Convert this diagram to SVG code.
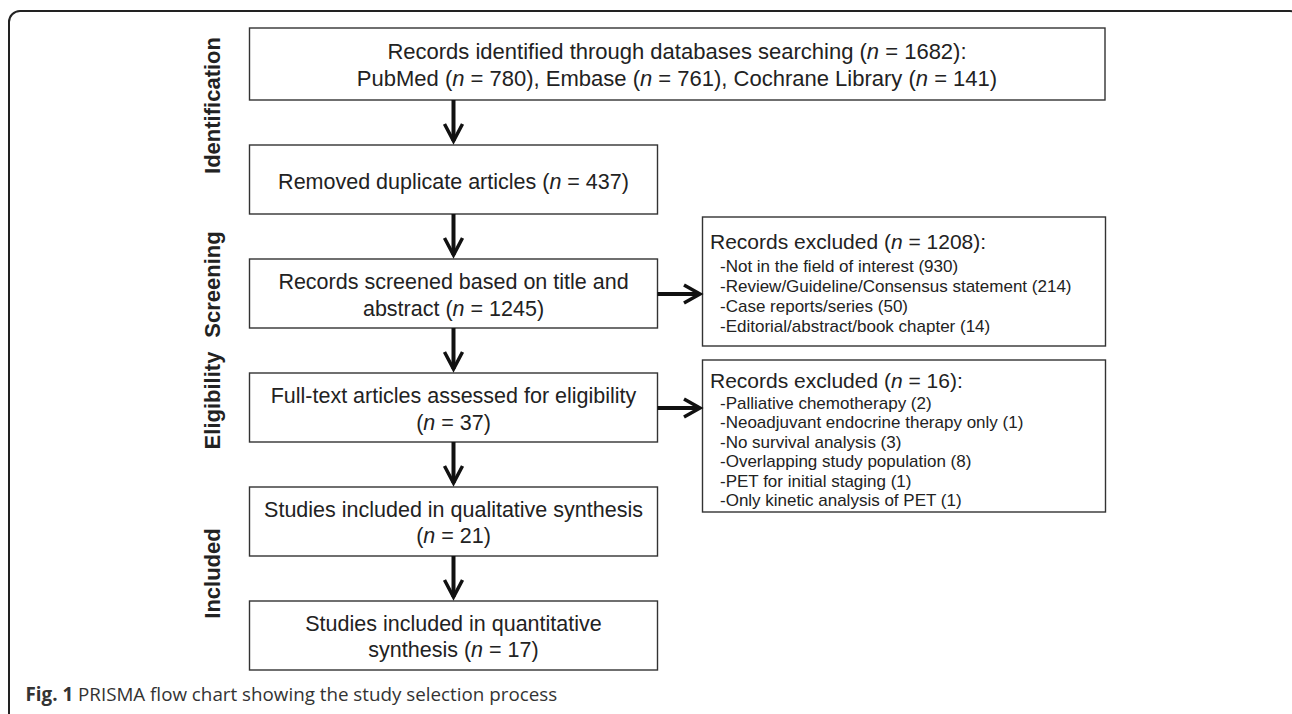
<svg xmlns="http://www.w3.org/2000/svg" width="1292" height="714" viewBox="0 0 1292 714">
<style>
.box{fill:#fff;stroke:#333;stroke-width:1.4}
.t{font-family:"Liberation Sans",Arial,sans-serif;font-size:21.5px;fill:#222;text-anchor:middle}
.t1{font-size:22px}
.h{font-family:"Liberation Sans",Arial,sans-serif;font-size:21px;fill:#222}
.s{font-family:"Liberation Sans",Arial,sans-serif;font-size:17px;fill:#222}
.side{font-family:"Liberation Sans",Arial,sans-serif;font-size:22px;font-weight:bold;fill:#222;text-anchor:middle}
.ln{fill:none;stroke:#111;stroke-width:4}
.hd{fill:none;stroke:#111;stroke-width:3.5;stroke-linejoin:miter}
.cap{font-family:"Open Sans","Liberation Sans",sans-serif;font-size:18.8px;fill:#333}
</style>
<rect x="9" y="11" width="1292" height="740" rx="11" fill="#fff" stroke="#222" stroke-width="2"/>
<g id="labels">
<text class="side" transform="translate(220,105.5) rotate(-90)">Identification</text>
<text class="side" transform="translate(220,284.5) rotate(-90)">Screening</text>
<text class="side" transform="translate(220,400.5) rotate(-90)">Eligibility</text>
<text class="side" transform="translate(220,573.5) rotate(-90)">Included</text>
</g>
<g id="n1">
<rect class="box" x="249.5" y="28" width="855.5" height="72"/>
<text class="t t1" x="677" y="59">Records identified through databases searching (<tspan font-style="italic">n</tspan> = 1682):</text>
<text class="t t1" x="677" y="86">PubMed (<tspan font-style="italic">n</tspan> = 780), Embase (<tspan font-style="italic">n</tspan> = 761), Cochrane Library (<tspan font-style="italic">n</tspan> = 141)</text>
</g>
<g id="n2">
<rect class="box" x="249.5" y="145" width="408" height="69"/>
<text class="t" x="453.5" y="189">Removed duplicate articles (<tspan font-style="italic">n</tspan> = 437)</text>
</g>
<g id="n3">
<rect class="box" x="249.5" y="259" width="408" height="69"/>
<text class="t" x="453.5" y="289">Records screened based on title and</text>
<text class="t" x="453.5" y="316">abstract (<tspan font-style="italic">n</tspan> = 1245)</text>
</g>
<g id="n4">
<rect class="box" x="249.5" y="373" width="408" height="69"/>
<text class="t" x="453.5" y="403">Full-text articles assessed for eligibility</text>
<text class="t" x="453.5" y="429.5">(<tspan font-style="italic">n</tspan> = 37)</text>
</g>
<g id="n5">
<rect class="box" x="249.5" y="487" width="408" height="69"/>
<text class="t" x="453.5" y="517">Studies included in qualitative synthesis</text>
<text class="t" x="453.5" y="543">(<tspan font-style="italic">n</tspan> = 21)</text>
</g>
<g id="n6">
<rect class="box" x="249.5" y="601" width="408" height="69"/>
<text class="t" x="453.5" y="631">Studies included in quantitative</text>
<text class="t" x="453.5" y="657">synthesis (<tspan font-style="italic">n</tspan> = 17)</text>
</g>
<g id="x1">
<rect class="box" x="702.5" y="217" width="403" height="129"/>
<text class="h" x="710" y="249">Records excluded (<tspan font-style="italic">n</tspan> = 1208):</text>
<text class="s" x="720" y="271.5">-Not in the field of interest (930)</text>
<text class="s" x="720" y="291.5">-Review/Guideline/Consensus statement (214)</text>
<text class="s" x="720" y="311.5">-Case reports/series (50)</text>
<text class="s" x="720" y="331.5">-Editorial/abstract/book chapter (14)</text>
</g>
<g id="x2">
<rect class="box" x="702.5" y="360" width="403" height="152"/>
<text class="h" x="710" y="387.5">Records excluded (<tspan font-style="italic">n</tspan> = 16):</text>
<text class="s" x="720" y="408.5">-Palliative chemotherapy (2)</text>
<text class="s" x="720" y="428">-Neoadjuvant endocrine therapy only (1)</text>
<text class="s" x="720" y="447.5">-No survival analysis (3)</text>
<text class="s" x="720" y="467">-Overlapping study population (8)</text>
<text class="s" x="720" y="486.5">-PET for initial staging (1)</text>
<text class="s" x="720" y="506">-Only kinetic analysis of PET (1)</text>
</g>
<g id="connectors">
<line class="ln" x1="453.5" y1="100" x2="453.5" y2="141"/>
<polyline class="hd" points="444.5,124 453.5,141 462.5,124"/>
<line class="ln" x1="453.5" y1="214" x2="453.5" y2="255"/>
<polyline class="hd" points="444.5,238 453.5,255 462.5,238"/>
<line class="ln" x1="453.5" y1="328" x2="453.5" y2="369"/>
<polyline class="hd" points="444.5,352 453.5,369 462.5,352"/>
<line class="ln" x1="453.5" y1="442" x2="453.5" y2="483"/>
<polyline class="hd" points="444.5,466 453.5,483 462.5,466"/>
<line class="ln" x1="453.5" y1="556" x2="453.5" y2="597"/>
<polyline class="hd" points="444.5,580 453.5,597 462.5,580"/>
<line class="ln" x1="657.5" y1="294" x2="700" y2="294"/>
<polyline class="hd" points="684,285 700,294 684,303"/>
<line class="ln" x1="657.5" y1="408" x2="700" y2="408"/>
<polyline class="hd" points="684,399 700,408 684,417"/>
</g>
<text class="cap" x="25.5" y="701"><tspan font-weight="bold">Fig. 1</tspan> PRISMA flow chart showing the study selection process</text>
</svg>
